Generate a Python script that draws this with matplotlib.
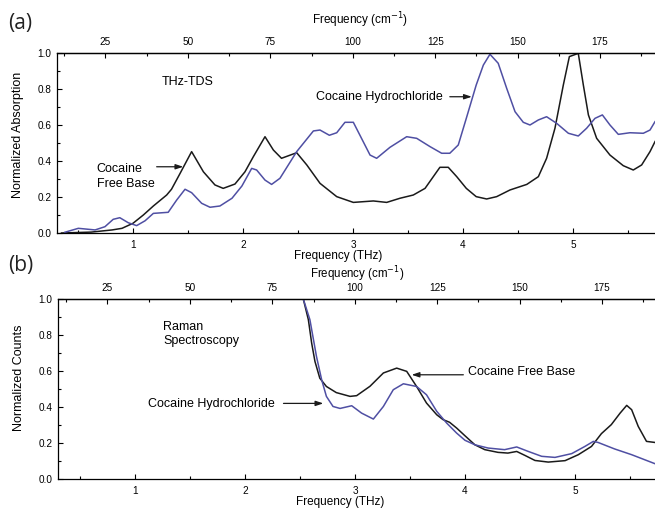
import matplotlib
matplotlib.use("Agg")
import matplotlib.pyplot as plt
from matplotlib.ticker import MultipleLocator

plt.rcParams['font.family'] = ['Liberation Sans', 'DejaVu Sans']

# ---------------- data (a) THz-TDS ----------------
tds_free_x = [0.35, 0.62, 0.81, 0.90, 1.00, 1.094, 1.185, 1.306, 1.35, 1.427, 1.533,
              1.64, 1.745, 1.82, 1.927, 2.018, 2.094, 2.20, 2.276, 2.35, 2.488, 2.58,
              2.70, 2.852, 3.003, 3.185, 3.306, 3.427, 3.548, 3.655, 3.79, 3.866, 3.943,
              4.03, 4.12, 4.215, 4.306, 4.427, 4.58, 4.685, 4.76, 4.836, 4.912, 4.967,
              5.048, 5.094, 5.14, 5.215, 5.336, 5.457, 5.548, 5.624, 5.70, 5.745, 5.80]
tds_free_y = [0.0, 0.005, 0.017, 0.026, 0.054, 0.10, 0.15, 0.211, 0.243, 0.33, 0.452,
              0.34, 0.267, 0.248, 0.272, 0.34, 0.424, 0.535, 0.461, 0.415, 0.446, 0.378,
              0.276, 0.202, 0.17, 0.178, 0.17, 0.193, 0.211, 0.248, 0.365, 0.365, 0.313,
              0.248, 0.202, 0.189, 0.202, 0.239, 0.27, 0.313, 0.415, 0.582, 0.822, 0.98,
              0.998, 0.822, 0.656, 0.526, 0.433, 0.374, 0.35, 0.378, 0.452, 0.507, 0.56]

tds_hcl_x = [0.38, 0.503, 0.655, 0.745, 0.82, 0.88, 0.957, 1.033, 1.11, 1.185, 1.32,
             1.397, 1.473, 1.533, 1.624, 1.70, 1.79, 1.90, 1.99, 2.079, 2.124, 2.20,
             2.26, 2.336, 2.488, 2.64, 2.70, 2.785, 2.852, 2.927, 3.003, 3.155, 3.215,
             3.336, 3.488, 3.579, 3.70, 3.806, 3.88, 3.957, 4.03, 4.12, 4.185, 4.245,
             4.32, 4.397, 4.473, 4.548, 4.609, 4.685, 4.76, 4.852, 4.958, 5.048, 5.124,
             5.20, 5.267, 5.336, 5.412, 5.518, 5.639, 5.70, 5.745, 5.80]
tds_hcl_y = [0.004, 0.026, 0.017, 0.035, 0.076, 0.085, 0.057, 0.041, 0.068, 0.109, 0.115,
             0.183, 0.243, 0.224, 0.165, 0.143, 0.15, 0.193, 0.261, 0.359, 0.35, 0.294,
             0.27, 0.304, 0.452, 0.567, 0.572, 0.543, 0.557, 0.615, 0.615, 0.433, 0.415,
             0.476, 0.535, 0.526, 0.48, 0.443, 0.443, 0.489, 0.637, 0.822, 0.933, 0.993,
             0.943, 0.804, 0.674, 0.615, 0.60, 0.628, 0.646, 0.609, 0.554, 0.539, 0.582,
             0.637, 0.656, 0.60, 0.548, 0.557, 0.554, 0.572, 0.618, 0.66]

# ---------------- data (b) Raman ----------------
ram_free_x = [2.53, 2.576, 2.606, 2.636, 2.68, 2.74, 2.83, 2.955, 3.015, 3.136, 3.258,
              3.379, 3.47, 3.56, 3.65, 3.743, 3.80, 3.86, 3.924, 4.0, 4.09, 4.18, 4.30,
              4.39, 4.47, 4.545, 4.636, 4.757, 4.91, 5.03, 5.15, 5.24, 5.33, 5.41, 5.47,
              5.515, 5.575, 5.65, 5.727, 5.80]
ram_free_y = [1.0, 0.885, 0.755, 0.653, 0.56, 0.514, 0.48, 0.459, 0.463, 0.515, 0.589,
              0.616, 0.598, 0.514, 0.422, 0.357, 0.33, 0.315, 0.283, 0.24, 0.19, 0.163, 0.148,
              0.144, 0.153, 0.131, 0.103, 0.094, 0.102, 0.135, 0.181, 0.252, 0.302, 0.366, 0.409,
              0.385, 0.292, 0.209, 0.203, 0.205]

ram_hcl_x = [2.53, 2.59, 2.65, 2.697, 2.74, 2.80, 2.864, 2.97, 3.06, 3.167, 3.258,
             3.348, 3.44, 3.56, 3.65, 3.743, 3.833, 3.924, 4.0, 4.09, 4.21, 4.36, 4.47,
             4.576, 4.697, 4.818, 4.97, 5.09, 5.167, 5.21, 5.36, 5.515, 5.727, 5.80]
ram_hcl_y = [1.0, 0.885, 0.68, 0.551, 0.459, 0.403, 0.392, 0.407, 0.366, 0.333, 0.403,
             0.496, 0.529, 0.514, 0.468, 0.376, 0.311, 0.255, 0.215, 0.19, 0.172, 0.163, 0.178,
             0.153, 0.126, 0.12, 0.141, 0.181, 0.209, 0.203, 0.167, 0.135, 0.085, 0.075]

x_major = [1, 2, 3, 4, 5]
cm_major = [25, 50, 75, 100, 125, 150, 175]

BLUE = '#4f4fa3'
BLACK = '#1a1a1a'
THZ_TO_CM = 33.356

fig = plt.figure(figsize=(6.55, 5.11), dpi=100)
W, H = 655.0, 511.0

def make_axes(left_px, top_px, bottom_px, xlim):
    ax = fig.add_axes([left_px / W, 1 - bottom_px / H, (666 - left_px) / W, (bottom_px - top_px) / H])
    ax.set_xlim(*xlim)
    ax.set_ylim(0, 1.0)
    ax.spines['right'].set_visible(False)
    for s in ax.spines.values():
        s.set_linewidth(0.9)
    ax.set_xticks(x_major)
    ax.xaxis.set_minor_locator(MultipleLocator(0.5))
    ax.set_yticks([0.0, 0.2, 0.4, 0.6, 0.8, 1.0])
    ax.set_yticklabels(['0.0', '0.2', '0.4', '0.6', '0.8', '1.0'])
    ax.yaxis.set_minor_locator(MultipleLocator(0.1))
    ax.tick_params(which='both', direction='in', labelsize=7.2, width=0.8, right=False)
    ax.tick_params(which='major', length=3.6)
    ax.tick_params(which='minor', length=2.0)
    ax.tick_params(axis='x', pad=5)
    ax.tick_params(axis='y', pad=4)
    sec = ax.secondary_xaxis('top', functions=(lambda x: x * THZ_TO_CM, lambda c: c / THZ_TO_CM))
    sec.set_xticks(cm_major)
    sec.xaxis.set_minor_locator(MultipleLocator(12.5))
    sec.tick_params(which='both', direction='in', labelsize=7.2, width=0.8, pad=4)
    sec.tick_params(which='major', length=3.6)
    sec.tick_params(which='minor', length=2.0)
    sec.spines['top'].set_linewidth(0.9)
    return ax, sec

# ---------- panel (a) ----------
axa, seca = make_axes(57, 53, 233, ((57 - 23) / 110, (666 - 23) / 110))
axa.plot(tds_free_x, tds_free_y, color=BLACK, lw=1.1)
axa.plot(tds_hcl_x, tds_hcl_y, color=BLUE, lw=1.1)
axa.set_ylabel('Normalized Absorption', fontsize=9)
axa.yaxis.set_label_coords(-0.054, 0.547)
axa.set_xlabel('Frequency (THz)', fontsize=8.5)
axa.xaxis.set_label_coords((338 - 57) / 609, -0.095)
fig.text(360 / W, 1 - 20 / H, 'Frequency (cm$^{-1}$)', fontsize=8.5, ha='center', va='center')

axa.text(1.261, 0.84, 'THz-TDS', fontsize=9, va='center', ha='left')
axa.text(2.664, 0.756, 'Cocaine Hydrochloride', fontsize=9, va='center', ha='left')
axa.annotate('', xy=(4.08, 0.757), xytext=(3.88, 0.757),
             arrowprops=dict(arrowstyle='-|>,head_length=0.45,head_width=0.15', lw=0.9,
                             color=BLACK, shrinkA=0, shrinkB=0))
axa.text(0.67, 0.314, 'Cocaine\nFree Base', fontsize=9, va='center', ha='left', linespacing=1.3)
axa.annotate('', xy=(1.457, 0.368), xytext=(1.215, 0.368),
             arrowprops=dict(arrowstyle='-|>,head_length=0.45,head_width=0.15', lw=0.9,
                             color=BLACK, shrinkA=0, shrinkB=0))

# ---------- panel (b) ----------
axb, secb = make_axes(58, 299, 479, ((58 - 25) / 110, (666 - 25) / 110))
axb.plot(ram_free_x, ram_free_y, color=BLACK, lw=1.1)
axb.plot(ram_hcl_x, ram_hcl_y, color=BLUE, lw=1.1)
axb.set_ylabel('Normalized Counts', fontsize=9)
axb.yaxis.set_label_coords(-0.055, 0.564)
axb.set_xlabel('Frequency (THz)', fontsize=8.5)
axb.xaxis.set_label_coords((340 - 58) / 608, -0.095)
fig.text(357 / W, 1 - 274 / H, 'Frequency (cm$^{-1}$)', fontsize=8.3, ha='center', va='center')

axb.text(1.255, 0.806, 'Raman\nSpectroscopy', fontsize=9, va='center', ha='left', linespacing=1.3)
axb.text(1.118, 0.418, 'Cocaine Hydrochloride', fontsize=9, va='center', ha='left')
axb.annotate('', xy=(2.712, 0.42), xytext=(2.35, 0.42),
             arrowprops=dict(arrowstyle='-|>,head_length=0.45,head_width=0.15', lw=0.9,
                             color=BLACK, shrinkA=0, shrinkB=0))
axb.text(4.03, 0.592, 'Cocaine Free Base', fontsize=9, va='center', ha='left')
axb.annotate('', xy=(3.515, 0.579), xytext=(3.985, 0.579),
             arrowprops=dict(arrowstyle='-|>,head_length=0.45,head_width=0.15', lw=0.9,
                             color=BLACK, shrinkA=0, shrinkB=0))

fig.text(8 / W, 1 - 24 / H, '(a)', fontsize=15, family=['Open Sans', 'DejaVu Sans'],
         va='center', ha='left', color='#222222')
fig.text(8 / W, 1 - 266 / H, '(b)', fontsize=15, family=['Open Sans', 'DejaVu Sans'],
         va='center', ha='left', color='#222222')

fig.savefig('out.png', dpi=100)
